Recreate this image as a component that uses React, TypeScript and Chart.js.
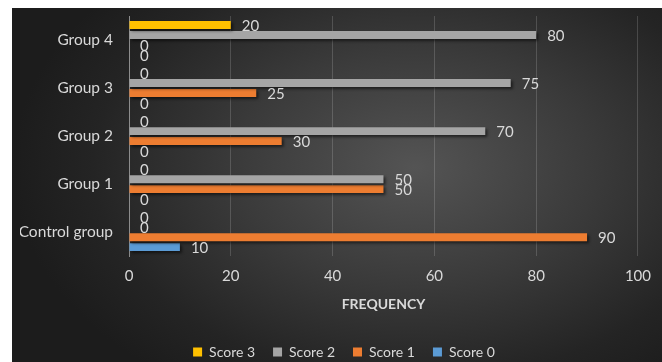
import React, { useEffect, useRef } from "react";
import { Chart, registerables } from "chart.js";

Chart.register(...registerables);

const categories = ["Group 4", "Group 3", "Group 2", "Group 1", "Control group"];
const score3 = [20, 0, 0, 0, 0];
const score2 = [80, 75, 70, 50, 0];
const score1 = [0, 25, 30, 50, 90];
const score0 = [0, 0, 0, 0, 10];
const xTicks = [0, 20, 40, 60, 80, 100];

const FONT = 'Lato, "Open Sans", sans-serif';
const TEXT = "#d9d9d9";

// soft drop shadow under the bars
const barShadow = {
  id: "barShadow",
  beforeDatasetsDraw(chart: any) {
    const c = chart.ctx;
    c.save();
    c.shadowColor = "rgba(0,0,0,0.55)";
    c.shadowBlur = 3;
    c.shadowOffsetX = 2;
    c.shadowOffsetY = 2;
  },
  afterDatasetsDraw(chart: any) {
    chart.ctx.restore();
  },
};

// value written just past the end of each bar
const valueLabels = {
  id: "valueLabels",
  afterDatasetsDraw(chart: any) {
    const c = chart.ctx;
    c.save();
    c.font = `15px ${FONT}`;
    c.fillStyle = TEXT;
    c.textAlign = "left";
    c.textBaseline = "middle";
    chart.data.datasets.forEach((ds: any, i: number) => {
      const meta = chart.getDatasetMeta(i);
      meta.data.forEach((el: any, j: number) => {
        c.fillText(String(ds.data[j]), el.x + 11, el.y + 1);
      });
    });
    c.restore();
  },
};

// nudge the legend row a little to the right
const legendShift = {
  id: "legendShift",
  afterLayout(chart: any) {
    if (chart.legend) {
      chart.legend.left += 14;
      chart.legend.right += 14;
    }
  },
};

export default function App() {
  const ref = useRef<HTMLCanvasElement | null>(null);

  useEffect(() => {
    if (!ref.current) return;
    const common = { categoryPercentage: 0.83, barPercentage: 0.8, borderWidth: 0 };
    const chart = new Chart(ref.current, {
      type: "bar",
      data: {
        labels: categories,
        datasets: [
          { label: "Score 3", data: score3, backgroundColor: "#FFC000", ...common },
          { label: "Score 2", data: score2, backgroundColor: "#A5A5A5", ...common },
          { label: "Score 1", data: score1, backgroundColor: "#ED7D31", ...common },
          { label: "Score 0", data: score0, backgroundColor: "#5B9BD5", ...common },
        ],
      },
      options: {
        indexAxis: "y",
        animation: false,
        responsive: false,
        maintainAspectRatio: false,
        layout: { padding: { top: 8, left: 8, right: 22, bottom: -7 } },
        scales: {
          x: {
            min: 0,
            max: 100,
            afterBuildTicks: (scale: any) => {
              scale.ticks = xTicks.map((v) => ({ value: v }));
            },
            grid: { color: "rgba(255,255,255,0.16)", drawTicks: false },
            border: { display: false },
            ticks: { color: TEXT, font: { family: FONT, size: 15 }, padding: 11 },
            title: {
              display: true,
              text: "FREQUENCY",
              color: TEXT,
              font: { family: FONT, size: 14, weight: "bold" },
              padding: { top: 0, bottom: 14 },
            },
          },
          y: {
            grid: { display: false, drawTicks: false },
            border: { display: true, color: "#8c8c8c", width: 1 },
            ticks: { color: TEXT, font: { family: FONT, size: 15.5 }, padding: 16 },
            afterFit: (scale: any) => {
              scale.width = 109;
              scale.paddingTop = 0;
              scale.paddingBottom = 0;
            },
          },
        },
        plugins: {
          legend: {
            position: "bottom",
            labels: {
              color: TEXT,
              font: { family: FONT, size: 14 },
              boxWidth: 9,
              boxHeight: 9,
              padding: 18,
            },
          },
          tooltip: { enabled: false },
        },
      },
      plugins: [barShadow, valueLabels, legendShift],
    } as any);
    return () => chart.destroy();
  }, []);

  return (
    <div
      style={{
        position: "absolute",
        left: 12,
        top: 8,
        width: 650,
        height: 354,
        background:
          "radial-gradient(ellipse 62% 75% at 62% 45%, #545454 0%, #3a3a3a 45%, #242424 80%, #1c1c1c 100%)",
      }}
    >
      <canvas ref={ref} width={650} height={354} style={{ display: "block" }} />
    </div>
  );
}
